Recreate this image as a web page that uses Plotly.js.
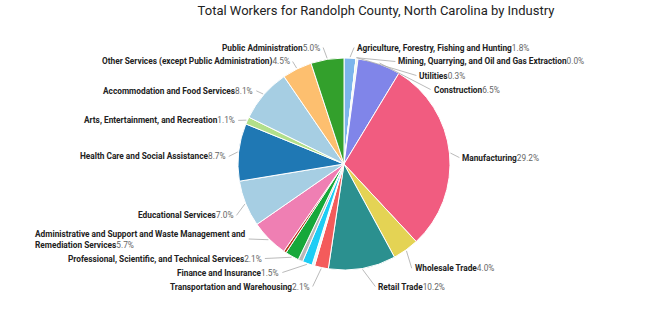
<!DOCTYPE html>
<html><head><meta charset="utf-8">
<script src="https://cdn.plot.ly/plotly-3.0.1.min.js"></script>
<style>html,body{margin:0;padding:0;background:#fff}#chart{width:655px;height:315px}</style>
</head><body><div id="chart"></div>
<script>
const chartTitle = 'Total Workers for Randolph County, North Carolina by Industry';
const categories = [
  'Agriculture, Forestry, Fishing and Hunting',
  'Mining, Quarrying, and Oil and Gas Extraction',
  'Utilities',
  'Construction',
  'Manufacturing',
  'Wholesale Trade',
  'Retail Trade',
  'Transportation and Warehousing',
  'Information',
  'Finance and Insurance',
  'Real Estate and Rental and Leasing',
  'Professional, Scientific, and Technical Services',
  'Management of Companies and Enterprises',
  'Administrative and Support and Waste Management and Remediation Services',
  'Educational Services',
  'Health Care and Social Assistance',
  'Arts, Entertainment, and Recreation',
  'Accommodation and Food Services',
  'Other Services (except Public Administration)',
  'Public Administration'
];
const values = [1.8, 0.0, 0.3, 6.5, 29.2, 4.0, 10.2, 2.1, 0.4, 1.5, 0.7, 2.1, 0.4, 5.7, 7.0, 8.7, 1.1, 8.1, 4.5, 5.0];
const colors = ['#7cb5ec', '#434348', '#eef6e6', '#8085e9', '#f15c80', '#e4d354', '#2b908f', '#f45b5b', '#eef8f8', '#1ccdf5',
                '#b8b8b8', '#16a83a', '#b5361c', '#ef7fb3', '#a6cee3', '#1f78b4', '#b2df8a', '#a6cee3', '#fdbf6f', '#33a02c'];
const hiddenLabels = ['Information', 'Real Estate and Rental and Leasing', 'Management of Companies and Enterprises'];

const W = 655, H = 315;
const cx = 344, cy = 164, r = 106;                 // pie geometry (px)
const LCX = 344, LCY = 170, LRX = 116, LRY = 121;  // label ellipse
const FS = 8.3, LINE_H = 11, GAP = 3, TOP = 42, BOTTOM = 292;

function wrap(name) {
  if (name.length <= 52) return [name];
  const words = name.split(' ');
  const lines = [''];
  words.forEach(w => {
    const cur = lines[lines.length - 1];
    if ((cur + ' ' + w).trim().length > 52) lines.push(w);
    else lines[lines.length - 1] = (cur + ' ' + w).trim();
  });
  return lines;
}

const total = values.reduce((a, b) => a + b, 0);
let cum = 0;
const items = [];
values.forEach((v, i) => {
  const mid = (cum + v / 2) / total; cum += v;
  if (hiddenLabels.includes(categories[i])) return;
  const th = mid * 2 * Math.PI;
  const lines = wrap(categories[i]);
  items.push({
    i, th, lines,
    side: th < Math.PI ? 1 : -1,
    h: lines.length * LINE_H,
    ny: LCY - LRY * Math.cos(th)
  });
});

[1, -1].forEach(side => {
  const s = items.filter(d => d.side === side).sort((a, b) => a.ny - b.ny);
  const n = s.length;
  s.forEach(d => d.y = d.ny);
  s[n - 1].y = Math.min(s[n - 1].y, BOTTOM - s[n - 1].h / 2);
  for (let k = n - 2; k >= 0; k--) s[k].y = Math.min(s[k].y, s[k + 1].y - (s[k].h + s[k + 1].h) / 2 - GAP);
  s[0].y = Math.max(s[0].y, TOP + s[0].h / 2);
  for (let k = 1; k < n; k++) s[k].y = Math.max(s[k].y, s[k - 1].y + (s[k].h + s[k - 1].h) / 2 + GAP);
});

const px = x => x / W, py = y => 1 - y / H;
const annotations = [], shapes = [];
items.forEach(d => {
  const t = Math.min(1, Math.abs(d.y - LCY) / LRY);
  const off = LRX * Math.sqrt(1 - t * t);
  const ex = Math.abs((r + 1) * Math.sin(d.th));
  const lx = cx + d.side * Math.max(off, ex + 4);
  const Ex = cx + (r + 1) * Math.sin(d.th), Ey = cy - (r + 1) * Math.cos(d.th);
  shapes.push({
    type: 'path', xref: 'paper', yref: 'paper',
    path: `M ${px(Ex)} ${py(Ey)} L ${px(lx)} ${py(d.y)}`,
    line: {color: '#a8a8a8', width: 0.8}
  });
  const name = d.lines.map(l => `<b>${l}</b>`).join('<br>');
  annotations.push({
    xref: 'paper', yref: 'paper',
    x: px(lx + d.side * 2), y: py(d.y),
    xanchor: d.side > 0 ? 'left' : 'right', yanchor: 'middle', align: 'left',
    showarrow: false,
    text: `${name}<span style="color:#666">${values[d.i].toFixed(1)}%</span>`,
    font: {family: 'Roboto, sans-serif', size: FS, color: '#222'},
    borderpad: 0
  });
});

const trace = {
  type: 'pie',
  labels: categories,
  values: values,
  sort: false,
  direction: 'clockwise',
  rotation: 0,
  textinfo: 'none',
  hoverinfo: 'label+percent',
  marker: {colors: colors, line: {color: '#ffffff', width: 1}},
  domain: {x: [cx / W - 0.3, cx / W + 0.3], y: [1 - (cy + r) / H, 1 - (cy - r) / H]},
  showlegend: false
};

Plotly.newPlot('chart', [trace], {
  width: W, height: H,
  margin: {l: 0, r: 0, t: 0, b: 0},
  paper_bgcolor: '#fff',
  title: {text: chartTitle, x: 376 / W, xref: 'container', xanchor: 'center', y: 1 - 10 / H, yref: 'container', yanchor: 'middle',
          font: {family: 'Roboto, sans-serif', size: 13, color: '#222'}},
  annotations: annotations,
  shapes: shapes,
  showlegend: false
}, {displayModeBar: false, staticPlot: true});
</script>
</body></html>
